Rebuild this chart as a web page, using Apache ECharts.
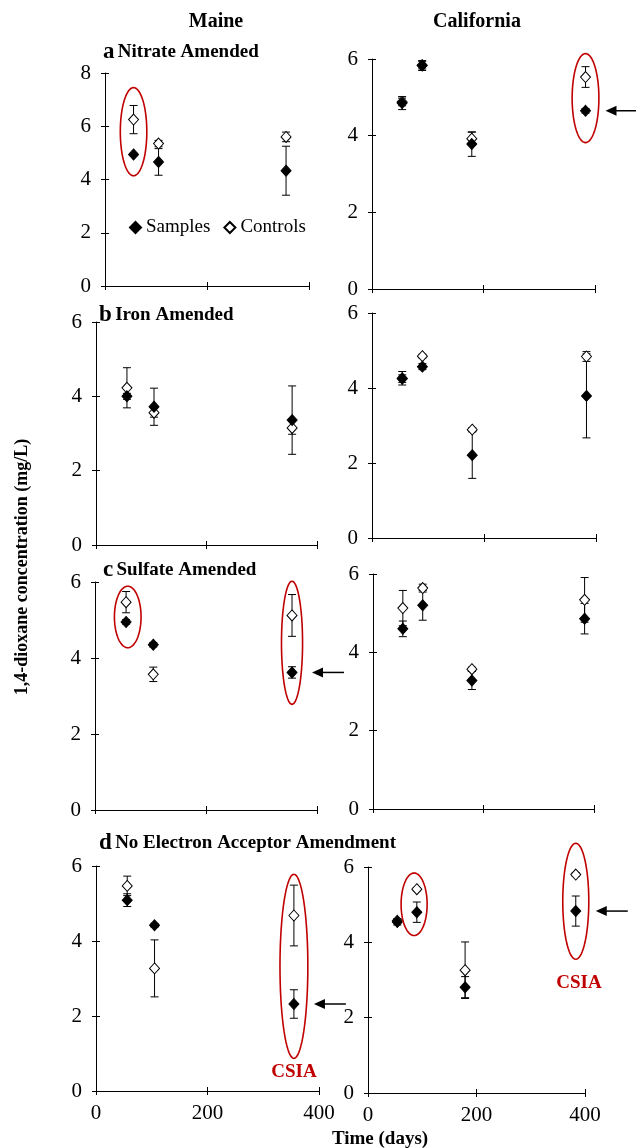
<!DOCTYPE html>
<html>
<head>
<meta charset="utf-8">
<script src="https://cdn.jsdelivr.net/npm/echarts@6.0.0/dist/echarts.min.js"></script>
<style>
html,body{margin:0;padding:0;background:#fff;}
#chart{width:637px;height:1148px;}
</style>
</head>
<body>
<div id="chart"></div>
<script>
// ---------------- DATA ----------------
const maineDays = [56, 105, 355];
const caliDays = [54, 90, 179, 383];
const xTicks = [0, 200, 400];

// Maine
const maineNitrateSamples = [4.94, 4.66, 4.33];
const maineNitrateSamplesErr = [0.05, 0.50, 0.92];
const maineNitrateControls = [6.25, 5.35, 5.60];
const maineNitrateControlsErr = [0.53, 0.12, 0.18];

const maineIronSamples = [4.00, 3.72, 3.36];
const maineIronSamplesErr = [0.08, 0.50, 0.92];
const maineIronControls = [4.23, 3.56, 3.15];
const maineIronControlsErr = [0.54, 0.12, 0.17];

const maineSulfateSamples = [4.95, 4.35, 3.62];
const maineSulfateSamplesErr = [0.06, 0.06, 0.15];
const maineSulfateControls = [5.47, 3.57, 5.12];
const maineSulfateControlsErr = [0.28, 0.19, 0.55];

const maineNoneSamples = [5.09, 4.42, 2.32];
const maineNoneSamplesErr = [0.17, 0.05, 0.38];
const maineNoneControls = [5.47, 3.27, 4.68];
const maineNoneControlsErr = [0.26, 0.76, 0.81];

// California
const caliNitrateSamples = [4.85, 5.83, 3.78, 4.65];
const caliNitrateSamplesErr = [0.17, 0.13, 0.32, 0.06];
const caliNitrateControls = [4.88, 5.84, 3.92, 5.53];
const caliNitrateControlsErr = [0.10, 0.10, 0.17, 0.27];

const caliIronSamples = [4.25, 4.57, 2.21, 3.79];
const caliIronSamplesErr = [0.10, 0.08, 0.62, 1.12];
const caliIronControls = [4.26, 4.85, 2.89, 4.84];
const caliIronControlsErr = [0.18, 0.05, 0.05, 0.13];

const caliSulfateSamples = [4.60, 5.20, 3.28, 4.86];
const caliSulfateSamplesErr = [0.20, 0.38, 0.23, 0.39];
const caliSulfateControls = [5.13, 5.64, 3.57, 5.34];
const caliSulfateControlsErr = [0.45, 0.10, 0.05, 0.57];

const caliNoneSamples = [4.54, 4.80, 2.81, 4.83];
const caliNoneSamplesErr = [0.08, 0.27, 0.28, 0.40];
const caliNoneControls = [4.57, 5.41, 3.26, 5.80];
const caliNoneControlsErr = [0.05, 0.04, 0.75, 0.05];

const panelTitles = [
  ['a', 'Nitrate Amended'],
  ['b', 'Iron Amended'],
  ['c', 'Sulfate Amended'],
  ['d', 'No Electron Acceptor Amendment']
];

// ---------------- LAYOUT ----------------
const panels = [
  {days: maineDays, s: maineNitrateSamples, se: maineNitrateSamplesErr, c: maineNitrateControls, ce: maineNitrateControlsErr, left:105, top:73, width:204, height:213, yMax:8, xLab:false},
  {days: caliDays, s: caliNitrateSamples, se: caliNitrateSamplesErr, c: caliNitrateControls, ce: caliNitrateControlsErr, left:372, top:59, width:223, height:230, yMax:6, xLab:false},
  {days: maineDays, s: maineIronSamples, se: maineIronSamplesErr, c: maineIronControls, ce: maineIronControlsErr, left:96, top:322, width:221, height:223, yMax:6, xLab:false},
  {days: caliDays, s: caliIronSamples, se: caliIronSamplesErr, c: caliIronControls, ce: caliIronControlsErr, left:372, top:313, width:224, height:225, yMax:6, xLab:false},
  {days: maineDays, s: maineSulfateSamples, se: maineSulfateSamplesErr, c: maineSulfateControls, ce: maineSulfateControlsErr, left:95, top:582, width:222, height:228, yMax:6, xLab:false},
  {days: caliDays, s: caliSulfateSamples, se: caliSulfateSamplesErr, c: caliSulfateControls, ce: caliSulfateControlsErr, left:373, top:574, width:221, height:235, yMax:6, xLab:false},
  {days: maineDays, s: maineNoneSamples, se: maineNoneSamplesErr, c: maineNoneControls, ce: maineNoneControlsErr, left:96, top:866, width:223, height:225, yMax:6, xLab:true},
  {days: caliDays, s: caliNoneSamples, se: caliNoneSamplesErr, c: caliNoneControls, ce: caliNoneControlsErr, left:368, top:867, width:217, height:226, yMax:6, xLab:true}
];

const titlePos = [[103, 52], [99, 315], [103, 570], [99, 843]];

// annotation ellipses in data coords: panel, centre day, yLo, yHi, half-width in days
const ellipses = [
  {p:0, x:56, lo:4.14, hi:7.45, hw:26},
  {p:1, x:383, lo:3.82, hi:6.14, hw:24},
  {p:4, x:59, lo:4.27, hi:5.89, hw:24},
  {p:4, x:355, lo:2.78, hi:6.02, hw:19},
  {p:6, x:355, lo:0.87, hi:5.78, hw:25},
  {p:7, x:85, lo:4.18, hi:5.84, hw:24},
  {p:7, x:383, lo:3.55, hi:6.63, hw:24}
];
const arrows = [{p:1, i:3}, {p:4, i:2}, {p:6, i:2}, {p:7, i:3}];
const csiaLabels = [{p:6, x:355, y:0.5}, {p:7, x:389, y:2.91}];

const SERIF = '"Liberation Serif", "Times New Roman", serif';
const RED = '#C00000';

// ---------------- OPTION ----------------
const grid = [], xAxis = [], yAxis = [], series = [];

function errItem(params, api) {
  const x = api.value(0), y = api.value(1), e = api.value(2);
  const t = api.coord([x, y + e]);
  const b = api.coord([x, y - e]);
  const cap = 4;
  const st = {stroke:'#000', lineWidth:1};
  return {type:'group', children:[
    {type:'line', shape:{x1:t[0], y1:t[1], x2:b[0], y2:b[1]}, style:st},
    {type:'line', shape:{x1:t[0]-cap, y1:t[1], x2:t[0]+cap, y2:t[1]}, style:st},
    {type:'line', shape:{x1:b[0]-cap, y1:b[1], x2:b[0]+cap, y2:b[1]}, style:st}
  ]};
}

panels.forEach((p, i) => {
  grid.push({left:p.left, top:p.top, width:p.width, height:p.height});
  const xa = 2*i, ya = 2*i;
  xAxis.push({
    gridIndex:i, type:'value', min:0, max:400, interval:200, position:'bottom',
    axisLine:{show:true, onZero:false, lineStyle:{color:'#000', width:1}},
    axisTick:{show:true, inside:false, length:4, lineStyle:{color:'#000'}},
    axisLabel:{show:p.xLab, margin:12, fontFamily:SERIF, fontSize:21, color:'#000'},
    splitLine:{show:false}
  });
  xAxis.push({
    gridIndex:i, type:'value', min:0, max:400, interval:200, position:'bottom',
    axisLine:{show:false, onZero:false},
    axisTick:{show:true, inside:true, length:4, lineStyle:{color:'#000'}},
    axisLabel:{show:false}, splitLine:{show:false}
  });
  yAxis.push({
    gridIndex:i, type:'value', min:0, max:p.yMax, interval:2, position:'left',
    axisLine:{show:true, onZero:false, lineStyle:{color:'#000', width:1}},
    axisTick:{show:true, inside:false, length:4, lineStyle:{color:'#000'}},
    axisLabel:{show:true, margin:14, fontFamily:SERIF, fontSize:21, color:'#000'},
    splitLine:{show:false}
  });
  yAxis.push({
    gridIndex:i, type:'value', min:0, max:p.yMax, interval:2, position:'left',
    axisLine:{show:false, onZero:false},
    axisTick:{show:true, inside:true, length:4, lineStyle:{color:'#000'}},
    axisLabel:{show:false}, splitLine:{show:false}
  });
  const cData = p.days.map((d, k) => [d, p.c[k], p.ce[k]]);
  const sData = p.days.map((d, k) => [d, p.s[k], p.se[k]]);
  series.push({type:'custom', xAxisIndex:xa, yAxisIndex:ya, renderItem:errItem, data:cData, silent:true, z:2});
  series.push({type:'custom', xAxisIndex:xa, yAxisIndex:ya, renderItem:errItem, data:sData, silent:true, z:2});
  series.push({name:'Controls', type:'scatter', xAxisIndex:xa, yAxisIndex:ya, data:cData.map(v => [v[0], v[1]]),
    symbol:'diamond', symbolSize:[10,11], itemStyle:{color:'#fff', borderColor:'#000', borderWidth:1, opacity:1}, z:3});
  series.push({name:'Samples', type:'scatter', xAxisIndex:xa, yAxisIndex:ya, data:sData.map(v => [v[0], v[1]]),
    symbol:'diamond', symbolSize:[10,11], itemStyle:{color:'#000', borderColor:'#000', borderWidth:1, opacity:1}, z:4});
});

const graphic = [];
graphic.push({type:'text', left:null, style:{text:'Maine', x:216, y:22, align:'center', verticalAlign:'middle', font:'bold 20px ' + SERIF, fill:'#000'}});
graphic.push({type:'text', style:{text:'California', x:477, y:22, align:'center', verticalAlign:'middle', font:'bold 20px ' + SERIF, fill:'#000'}});
graphic.push({type:'text', rotation:Math.PI/2, x:22, y:567, style:{text:'1,4-dioxane concentration (mg/L)', x:0, y:0, align:'center', verticalAlign:'middle', font:'bold 18px ' + SERIF, fill:'#000'}});
graphic.push({type:'text', style:{text:'Time (days)', x:380, y:1139, align:'center', verticalAlign:'middle', font:'bold 19px ' + SERIF, fill:'#000'}});
panelTitles.forEach((t, i) => {
  graphic.push({type:'text', style:{
    text:'{l|' + t[0] + '} {t|' + t[1] + '}', x:titlePos[i][0], y:titlePos[i][1], align:'left', verticalAlign:'middle',
    rich:{l:{fontFamily:SERIF, fontWeight:'bold', fontSize:23, fill:'#000'}, t:{fontFamily:SERIF, fontWeight:'bold', fontSize:19, fill:'#000'}}
  }});
});

const chart = echarts.init(document.getElementById('chart'), null, {renderer:'canvas'});
chart.setOption({
  animation:false,
  backgroundColor:'#fff',
  grid, xAxis, yAxis, series,
  legend:{data:['Samples','Controls'], left:124, top:213, itemWidth:11, itemHeight:11, itemGap:13,
    textStyle:{fontFamily:SERIF, fontSize:19, color:'#000'}},
  graphic
});

// annotations positioned through the axes
function px(pi, x, y) { return chart.convertToPixel({xAxisIndex:2*pi, yAxisIndex:2*pi}, [x, y]); }
const extra = [];
ellipses.forEach(e => {
  const c = px(e.p, e.x, (e.lo + e.hi)/2);
  const t = px(e.p, e.x + e.hw, e.hi);
  const rx = Math.abs(t[0] - c[0]);
  const ry = Math.abs(c[1] - t[1]);
  const pts = [];
  for (let k = 0; k < 72; k++) {
    const a = k / 72 * Math.PI * 2;
    pts.push([c[0] + rx*Math.cos(a), c[1] + ry*Math.sin(a)]);
  }
  extra.push({type:'polygon', shape:{points:pts}, style:{fill:'none', stroke:RED, lineWidth:1.6}, z:10});
});
arrows.forEach(a => {
  const p = panels[a.p];
  const pt = px(a.p, p.days[a.i], p.s[a.i]);
  const tip = pt[0] + 20;
  const tail = Math.min(tip + 32, 636);
  extra.push({type:'line', shape:{x1:tip + 8, y1:pt[1], x2:tail, y2:pt[1]}, style:{stroke:'#000', lineWidth:1.5}, z:10});
  extra.push({type:'polygon', shape:{points:[[tip, pt[1]], [tip + 11, pt[1] - 5], [tip + 11, pt[1] + 5]]}, style:{fill:'#000'}, z:10});
});
csiaLabels.forEach(l => {
  const pt = px(l.p, l.x, l.y);
  extra.push({type:'text', style:{text:'CSIA', x:pt[0], y:pt[1], align:'center', verticalAlign:'middle', font:'bold 19px ' + SERIF, fill:RED}, z:10});
});
chart.setOption({graphic: graphic.concat(extra)});
</script>
</body>
</html>
